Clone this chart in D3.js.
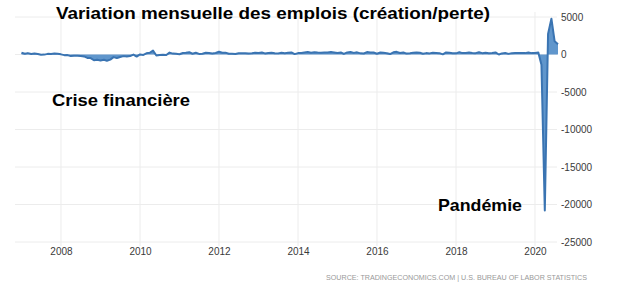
<!DOCTYPE html>
<html>
<head>
<meta charset="utf-8">
<script src="https://cdn.jsdelivr.net/npm/d3@7"></script>
<style>
  body { margin: 0; background: #fff; }
  text { font-family: Arial, "Liberation Sans", sans-serif; }
</style>
</head>
<body>
<div id="chart"></div>
<script>
// monthly change in nonfarm payrolls (thousands), Jan 2007 - Aug 2020
let years = [2007, 2008, 2009, 2010, 2011, 2012, 2013, 2014, 2015, 2016, 2017, 2018, 2019, 2020];
let monthly = [
    [238, 93, 186, 78, 144, 71, -33, -16, 85, 82, 118, 97],
    [19, -86, -78, -214, -182, -172, -210, -259, -452, -474, -766, -694],
    [-793, -702, -823, -687, -349, -471, -329, -217, -258, -213, -15, -278],
    [14, -60, 154, 229, 521, -137, -68, -38, -69, 253, 122, 89],
    [41, 201, 241, 310, 103, 228, 77, 106, 229, 212, 139, 207],
    [357, 225, 244, 91, 107, 68, 160, 168, 181, 144, 153, 241],
    [192, 272, 146, 206, 230, 178, 150, 237, 176, 223, 270, 51],
    [189, 191, 264, 330, 239, 299, 256, 225, 269, 262, 325, 273],
    [193, 265, 80, 275, 330, 216, 287, 151, 132, 328, 281, 268],
    [109, 264, 220, 166, 55, 287, 353, 194, 274, 119, 157, 219],
    [258, 225, 99, 184, 149, 226, 216, 181, 18, 270, 240, 176],
    [151, 313, 184, 207, 260, 211, 179, 297, 180, 225, 180, 208],
    [269, 1, 147, 210, 85, 182, 194, 207, 208, 185, 261, 184],
    [214, 251, -1373, -20787, 2725, 4781, 1761, 1371]
];
let xTicks = [2008, 2010, 2012, 2014, 2016, 2018, 2020];
let yTicks = [5000, 0, -5000, -10000, -15000, -20000, -25000];

let svgWidth = 624;
let svgHeight = 290;

let data = [];
monthly.forEach(function (vals, i) {
    vals.forEach(function (v, m) {
        data.push({ date: new Date(years[i], m, 1), value: v });
    });
});

let svg = d3.select("#chart")
    .append("svg")
    .attr("width", svgWidth)
    .attr("height", svgHeight);

let xScale = d3.scaleTime()
    .domain([data[0].date, data[data.length - 1].date])
    .range([21.5, 558]);

let yScale = d3.scaleLinear()
    .domain([-25000, 5000])
    .range([242, 17]);

// grid
svg.append("g").selectAll("line")
    .data(xTicks)
    .enter()
    .append("line")
    .attr("x1", d => xScale(new Date(d, 0, 1)))
    .attr("x2", d => xScale(new Date(d, 0, 1)))
    .attr("y1", 12)
    .attr("y2", 246)
    .attr("stroke", "#ececec");

svg.append("g").selectAll("line")
    .data(yTicks)
    .enter()
    .append("line")
    .attr("x1", 15)
    .attr("x2", 557)
    .attr("y1", d => yScale(d))
    .attr("y2", d => yScale(d))
    .attr("stroke", "#ececec");

// area + line
let area = d3.area()
    .x(d => xScale(d.date))
    .y0(yScale(0))
    .y1(d => yScale(d.value));

let line = d3.line()
    .x(d => xScale(d.date))
    .y(d => yScale(d.value));

svg.append("path")
    .datum(data)
    .attr("d", area)
    .attr("fill", "#4f8bc6")
    .attr("opacity", 0.9);

svg.append("path")
    .datum(data)
    .attr("d", line)
    .attr("fill", "none")
    .attr("stroke", "#3a74b2")
    .attr("stroke-width", 2)
    .attr("stroke-linejoin", "round");

// axes labels
let bottomAxis = d3.axisBottom(xScale)
    .tickValues(xTicks.map(d => new Date(d, 0, 1)))
    .tickFormat(d3.timeFormat("%Y"))
    .tickSize(0)
    .tickPadding(0);

let xg = svg.append("g")
    .attr("transform", "translate(0, 248)")
    .call(bottomAxis);
xg.select(".domain").remove();
xg.selectAll("text")
    .attr("dy", "0.71em")
    .attr("fill", "#3a3a3a")
    .style("font-size", "10px");

let rightAxis = d3.axisRight(yScale)
    .tickValues(yTicks)
    .tickFormat(d => d)
    .tickSize(0)
    .tickPadding(0);

let yg = svg.append("g")
    .attr("transform", "translate(561, 0)")
    .call(rightAxis);
yg.select(".domain").remove();
yg.selectAll("text")
    .attr("fill", "#3a3a3a")
    .style("font-size", "10px");

// titles and notes
svg.append("text")
    .attr("x", 56)
    .attr("y", 19)
    .attr("textLength", 434)
    .attr("lengthAdjust", "spacingAndGlyphs")
    .style("font-size", "17px")
    .style("font-weight", "bold")
    .attr("fill", "#000")
    .text("Variation mensuelle des emplois (création/perte)");

svg.append("text")
    .attr("x", 52)
    .attr("y", 106)
    .attr("textLength", 138)
    .attr("lengthAdjust", "spacingAndGlyphs")
    .style("font-size", "17px")
    .style("font-weight", "bold")
    .attr("fill", "#000")
    .text("Crise financière");

svg.append("text")
    .attr("x", 438)
    .attr("y", 211)
    .attr("textLength", 84)
    .attr("lengthAdjust", "spacingAndGlyphs")
    .style("font-size", "17px")
    .style("font-weight", "bold")
    .attr("fill", "#000")
    .text("Pandémie");

svg.append("text")
    .attr("x", 326)
    .attr("y", 280)
    .attr("textLength", 261)
    .attr("lengthAdjust", "spacingAndGlyphs")
    .style("font-size", "7.5px")
    .attr("fill", "#999")
    .text("SOURCE: TRADINGECONOMICS.COM | U.S. BUREAU OF LABOR STATISTICS");
</script>
</body>
</html>
